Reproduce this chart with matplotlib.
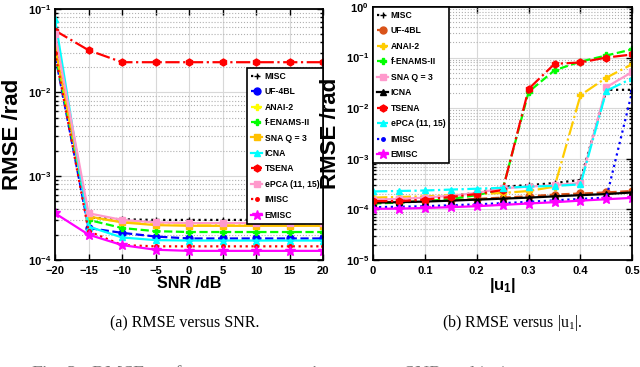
import numpy as np
import matplotlib
matplotlib.use("Agg")
import matplotlib.pyplot as plt
from matplotlib.ticker import LogLocator, NullFormatter

plt.rcParams['font.family'] = ['Liberation Sans Narrow', 'Liberation Sans', 'DejaVu Sans']
plt.rcParams['font.weight'] = 'bold'
plt.rcParams['mathtext.default'] = 'regular'

NAMES = ["MISC", "UF-4BL", "ANAI-2", "f-ENAMS-II", "SNA Q = 3",
         "ICNA", "TSENA", "ePCA (11, 15)", "IMISC", "EMISC"]

#### (a) RMSE versus SNR ####
snr = [-20, -15, -10, -5, 0, 5, 10, 15, 20]
a_misc   = [0.040, 3.2e-4, 3.05e-4, 3.0e-4, 3.0e-4, 3.0e-4, 3.0e-4, 3.0e-4, 3.0e-4]
a_uf4bl  = [0.028, 2.4e-4, 2.1e-4, 1.9e-4, 1.8e-4, 1.8e-4, 1.8e-4, 1.8e-4, 1.8e-4]
a_anai2  = [0.035, 3.2e-4, 2.85e-4, 2.75e-4, 2.7e-4, 2.7e-4, 2.7e-4, 2.7e-4, 2.7e-4]
a_fenams = [0.030, 3.0e-4, 2.4e-4, 2.2e-4, 2.15e-4, 2.15e-4, 2.15e-4, 2.15e-4, 2.15e-4]
a_sna    = [0.035, 3.3e-4, 2.8e-4, 2.6e-4, 2.55e-4, 2.55e-4, 2.55e-4, 2.55e-4, 2.55e-4]
a_icna   = [0.075, 2.5e-4, 1.85e-4, 1.72e-4, 1.7e-4, 1.7e-4, 1.7e-4, 1.7e-4, 1.7e-4]
a_tsena  = [0.055, 0.032, 0.023, 0.023, 0.023, 0.023, 0.023, 0.023, 0.023]
a_epca   = [0.050, 3.6e-4, 3.0e-4, 2.8e-4, 2.75e-4, 2.75e-4, 2.75e-4, 2.75e-4, 2.75e-4]
a_imisc  = [0.030, 2.2e-4, 1.5e-4, 1.45e-4, 1.45e-4, 1.45e-4, 1.45e-4, 1.45e-4, 1.45e-4]
a_emisc  = [3.6e-4, 2.0e-4, 1.5e-4, 1.32e-4, 1.28e-4, 1.28e-4, 1.28e-4, 1.28e-4, 1.28e-4]

#### (b) RMSE versus |u1| ####
u1 = [0, 0.05, 0.1, 0.15, 0.2, 0.25, 0.3, 0.35, 0.4, 0.45, 0.5]
b_misc   = [1.5e-4, 1.6e-4, 1.7e-4, 1.85e-4, 2.1e-4, 2.8e-4, 3.0e-4, 3.3e-4, 3.8e-4, 0.023, 0.023]
b_uf4bl  = [1.35e-4, 1.4e-4, 1.45e-4, 1.5e-4, 1.6e-4, 1.7e-4, 1.8e-4, 1.95e-4, 2.05e-4, 2.15e-4, 2.3e-4]
b_anai2  = [1.7e-4, 1.75e-4, 1.8e-4, 1.9e-4, 2.0e-4, 2.1e-4, 2.3e-4, 2.8e-4, 0.018, 0.040, 0.074]
b_fenams = [1.3e-4, 1.35e-4, 1.45e-4, 1.6e-4, 1.9e-4, 2.5e-4, 0.021, 0.056, 0.083, 0.11, 0.145]
b_sna    = [1.55e-4, 1.6e-4, 1.7e-4, 1.85e-4, 2.1e-4, 2.6e-4, 2.8e-4, 3.0e-4, 3.3e-4, 0.026, 0.052]
b_icna   = [1.35e-4, 1.38e-4, 1.42e-4, 1.48e-4, 1.55e-4, 1.62e-4, 1.7e-4, 1.8e-4, 1.9e-4, 2.0e-4, 2.15e-4]
b_tsena  = [1.45e-4, 1.45e-4, 1.55e-4, 1.75e-4, 2.0e-4, 2.4e-4, 0.024, 0.075, 0.08, 0.10, 0.115]
b_epca   = [2.25e-4, 2.3e-4, 2.35e-4, 2.45e-4, 2.55e-4, 2.65e-4, 2.8e-4, 2.9e-4, 3.1e-4, 0.022, 0.039]
b_imisc  = [1.1e-4, 1.12e-4, 1.15e-4, 1.2e-4, 1.25e-4, 1.32e-4, 1.4e-4, 1.5e-4, 1.6e-4, 1.7e-4, 0.022]
b_emisc  = [1.02e-4, 1.03e-4, 1.06e-4, 1.1e-4, 1.15e-4, 1.22e-4, 1.3e-4, 1.38e-4, 1.48e-4, 1.58e-4, 1.68e-4]

# colour, linestyle, marker for each method
sty_a = [("k", ":", "+"), ("#0000ff", "--", "o"), ("#ffff00", "-.", "P"),
         ("#00ff00", "--", "P"), ("#ffc000", "-", "s"), ("#00ffff", "-", "^"),
         ("#ff0000", "-.", "h"), ("#ff99cc", "-", "s"), ("#ff0000", ":", "."),
         ("#ff00ff", "-", "*")]
sty_b = [("k", ":", "+"), ("#d95319", "--", "o"), ("#ffcc00", "-.", "P"),
         ("#00ff00", "--", "P"), ("#ff99cc", "-", "s"), ("k", "-", "^"),
         ("#ff0000", "-.", "h"), ("#00ffff", "-.", "^"), ("#0000ff", ":", "."),
         ("#ff00ff", "-", "*")]

fig = plt.figure(figsize=(6.4, 3.67), dpi=100)
axa = fig.add_axes([0.086, 0.292, 0.419, 0.684])
axb = fig.add_axes([0.583, 0.292, 0.405, 0.689])

def draw(ax, x, series, styles):
    for y, (c, ls, m), name in zip(series, styles, NAMES):
        ms = 5 if m != "*" else 7
        ax.plot(x, y, color=c, linestyle=ls, marker=m, markersize=ms,
                markerfacecolor=c, markeredgecolor=c, linewidth=1.6, label=name)

def style(ax):
    ax.set_yscale("log")
    ax.yaxis.set_minor_locator(LogLocator(base=10, subs=np.arange(2, 10)))
    ax.yaxis.set_minor_formatter(NullFormatter())
    ax.grid(True, which="major", color="#d8d8d8", linestyle="-", linewidth=0.8)
    ax.grid(True, which="minor", axis="y", color="#b0b0b0", linestyle=":", linewidth=0.8)
    ax.set_axisbelow(True)
    ax.tick_params(which="both", direction="in", top=True, right=True,
                   labelsize=8, width=1.0)
    ax.tick_params(axis="x", pad=4.5)
    ax.tick_params(axis="y", pad=3)
    ax.tick_params(which="major", length=4)
    ax.tick_params(which="minor", length=2)
    for s in ax.spines.values():
        s.set_linewidth(1.3)
    for t in ax.get_xticklabels() + ax.get_yticklabels():
        t.set_fontweight("bold")

def legend(ax, **kw):
    lg = ax.legend(borderaxespad=0, fontsize=6.2, handlelength=1.3,
                   handletextpad=0.3, labelspacing=0.75, borderpad=0.45,
                   fancybox=False, framealpha=1, edgecolor="k", **kw)
    lg.get_frame().set_linewidth(1.2)

draw(axa, snr, [a_misc, a_uf4bl, a_anai2, a_fenams, a_sna, a_icna,
                a_tsena, a_epca, a_imisc, a_emisc], sty_a)
axa.set_xlim(-20, 20)
axa.set_ylim(1e-4, 1e-1)
axa.set_xticks(snr)
style(axa)
axa.set_xlabel("SNR /dB", fontsize=11.5, fontweight="bold", labelpad=0)
axa.set_ylabel("RMSE /rad", fontsize=16, fontweight="bold",
               family=["Liberation Sans", "DejaVu Sans"])
axa.yaxis.set_label_coords(-0.12, 0.5)
legend(axa, loc="upper right", bbox_to_anchor=(1.0, 0.765))

draw(axb, u1, [b_misc, b_uf4bl, b_anai2, b_fenams, b_sna, b_icna,
               b_tsena, b_epca, b_imisc, b_emisc], sty_b)
axb.set_xlim(0, 0.5)
axb.set_ylim(1e-5, 1e0)
axb.set_xticks([0, 0.1, 0.2, 0.3, 0.4, 0.5])
axb.set_xticklabels(["0", "0.1", "0.2", "0.3", "0.4", "0.5"])
style(axb)
axb.set_xlabel("$|u_1|$", fontsize=12, fontweight="bold", labelpad=0)
axb.set_ylabel("RMSE /rad", fontsize=16, fontweight="bold",
               family=["Liberation Sans", "DejaVu Sans"])
axb.yaxis.set_label_coords(-0.125, 0.5)
legend(axb, loc="upper left", bbox_to_anchor=(0.0, 1.0))

serif = ["Liberation Serif", "DejaVu Serif"]
fig.text(0.288, 0.12, "(a) RMSE versus SNR.", ha="center", va="center",
         fontsize=11.5, fontweight="normal", family=serif)
fig.text(0.80, 0.12, "(b) RMSE versus $|u_1|$.", ha="center", va="center",
         fontsize=11.5, fontweight="normal", family=serif)
# caption of the whole figure, mostly cut off by the bottom edge
fig.text(0.048, 0.011, "Fig. 3:  RMSE performance comparison versus SNR and $|u_1|$.",
         ha="left", va="top", fontsize=14, fontweight="normal",
         family=serif, color="#777777")

fig.savefig("out.png", dpi=100)
